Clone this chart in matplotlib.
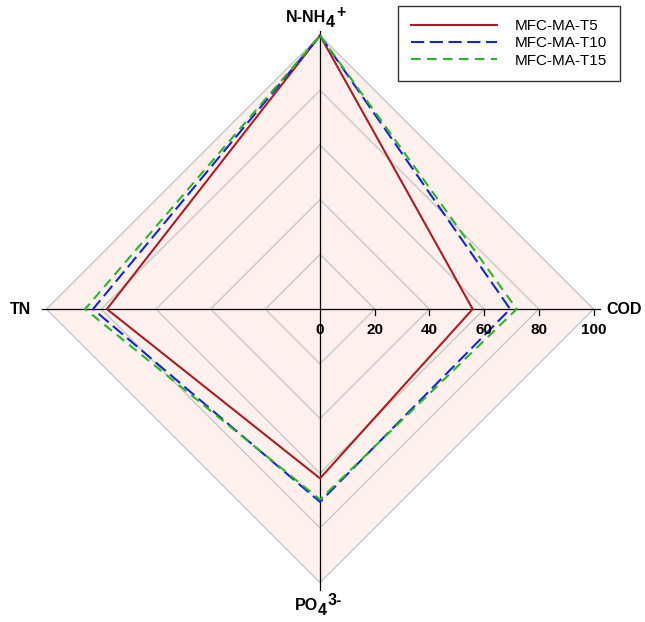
import numpy as np
import matplotlib
matplotlib.use("Agg")
import matplotlib.pyplot as plt

# axis order: top, right, bottom, left
categories = ["N-NH", "COD", "PO", "TN"]
subscripts = ["4", "", "4", ""]
superscripts = ["+", "", "3-", ""]
series_names = ["MFC-MA-T5", "MFC-MA-T10", "MFC-MA-T15"]
t5_values = [100, 55.8, 61.9, 77.9]
t10_values = [100, 69.5, 70.5, 83.0]
t15_values = [100, 71.9, 69.6, 85.9]
grid_levels = [20, 40, 60, 80, 100]
tick_labels = ["0", "20", "40", "60", "80", "100"]

plt.rcParams['font.family'] = ['Liberation Sans', 'DejaVu Sans']
plt.rcParams['lines.scale_dashes'] = False

# directions of the four axes (top, right, bottom, left)
angles = np.array([90, 0, 270, 180]) * np.pi / 180
dx = np.round(np.cos(angles), 6)
dy = np.round(np.sin(angles), 6)

PX = 2.735  # pixels per unit


def to_xy(vals):
    v = np.asarray(vals, dtype=float)
    x = np.append(v * dx, v[0] * dx[0])
    y = np.append(v * dy, v[0] * dy[0])
    return x, y


def chem_label(ax, x, y, base, sub, sup, size=11.5):
    # base text ends at x; subscript and superscript follow it
    ax.text(x, y, base, ha='right', va='center', fontsize=size, fontweight='bold')
    ax.text(x, y - 4.5 / PX, sub, ha='left', va='center', fontsize=size,
            fontweight='bold')
    ax.text(x + 10.0 / PX, y + 5.0 / PX, sup, ha='left', va='center',
            fontsize=size, fontweight='bold')


fig = plt.figure(figsize=(6.45, 6.22), dpi=100)
ax = fig.add_axes([0, 0, 1, 1])
ax.set_xlim(-117.0, 118.8)
ax.set_ylim(-114.4, 113.0)
ax.axis('off')

# pink background inside the outer diamond
ox, oy = to_xy([100] * 4)
ax.fill(ox, oy, color='#fdf0ed', zorder=0)

# grey diamond grid
for lv in grid_levels:
    gx, gy = to_xy([lv] * 4)
    ax.plot(gx, gy, color='#c8c8c8', lw=1.0, zorder=1)

# black axes
ax.plot([-101.8, 102.4], [0, 0], color='black', lw=0.9, zorder=2)
ax.plot([0, 0], [-102.7, 101.5], color='black', lw=0.9, zorder=2)

# ticks on the COD axis
for lv in grid_levels:
    ax.plot([lv, lv], [0, -2.0], color='black', lw=0.9, zorder=2)
for i, lab in enumerate(tick_labels):
    ax.text(i * 20, -7.8, lab, ha='center', va='center', fontsize=11,
            fontweight='bold', zorder=5)

# data series
ax.plot(*to_xy(t5_values), color='#a81e22', lw=1.5, label=series_names[0], zorder=3)
ax.plot(*to_xy(t10_values), color='#1428c8', lw=1.5, dashes=(9.5, 4.0),
        label=series_names[1], zorder=3)
ax.plot(*to_xy(t15_values), color='#2cb42c', lw=1.5, dashes=(7.0, 4.5),
        label=series_names[2], zorder=4)

# category labels
chem_label(ax, 6 / PX, 106.6, categories[0], subscripts[0], superscripts[0])
ax.text(104.5, 0, categories[1], ha='left', va='center', fontsize=11.5, fontweight='bold')
chem_label(ax, -2 / PX, -108.4, categories[2], subscripts[2], superscripts[2])
ax.text(-105.5, 0, categories[3], ha='right', va='center', fontsize=11.5, fontweight='bold')

leg = ax.legend(loc='upper left', bbox_to_anchor=(398 / 645, 1 - 6 / 622),
                bbox_transform=fig.transFigure, fontsize=11, frameon=True,
                fancybox=False, edgecolor='black', handlelength=5.6,
                handletextpad=1.2, labelspacing=0.22, borderpad=0.85,
                borderaxespad=0)
leg.get_frame().set_linewidth(1.0)

fig.savefig("out.png", dpi=100)
